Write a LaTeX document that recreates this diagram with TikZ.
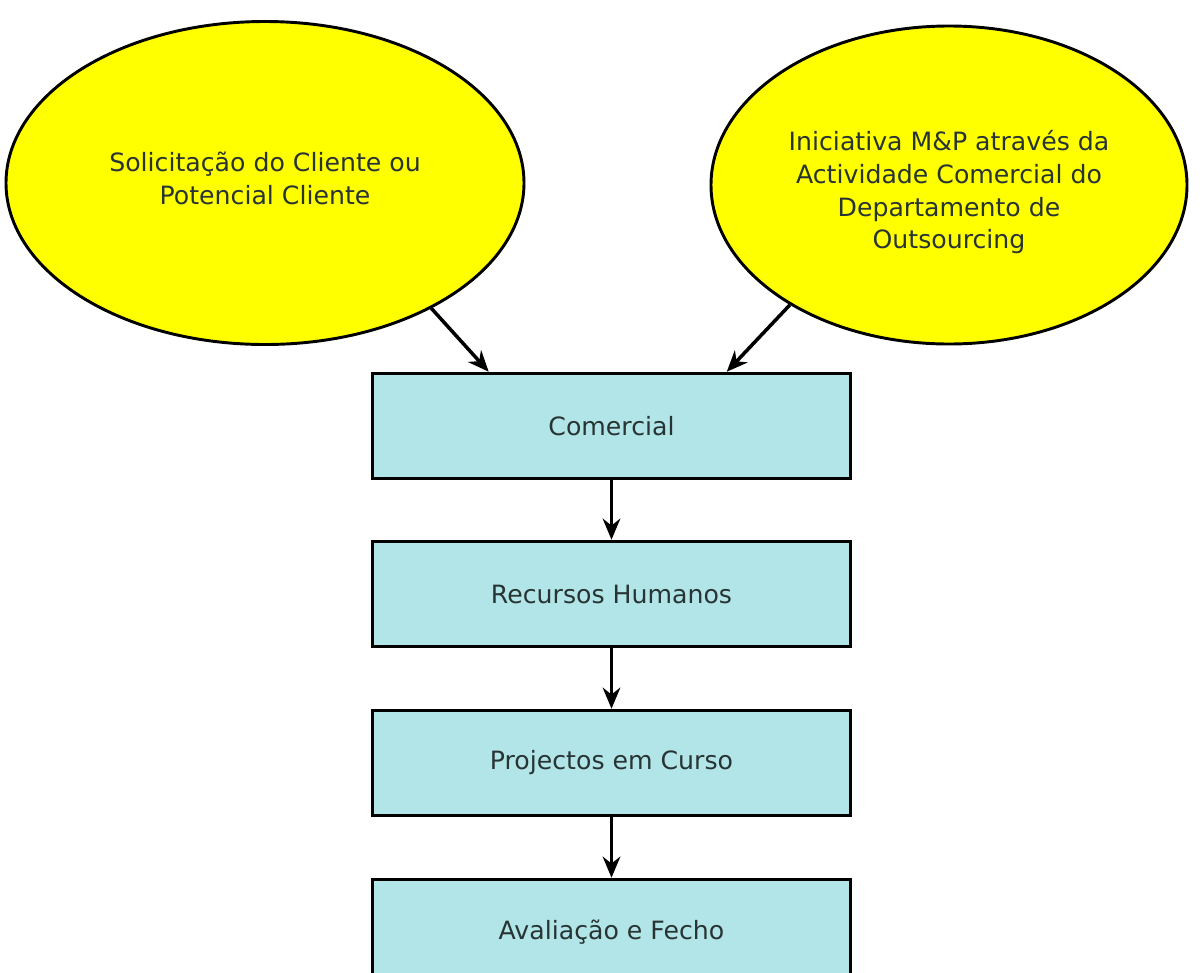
\documentclass[tikz,border=0pt]{standalone}
\usepackage{fontspec}
\setmainfont{DejaVu Sans}
\usepackage{tikz}
\usetikzlibrary{arrows.meta,positioning,shapes.geometric,calc}
\definecolor{boxcyan}{RGB}{178,229,231}
\definecolor{amarelo}{RGB}{255,255,0}
\definecolor{txtgray}{RGB}{40,52,52}

\begin{document}
\begin{tikzpicture}[
  x=0.03cm, y=-0.03cm,
  origem/.style={draw, ellipse, line width=2.5pt, fill=amarelo, align=center, text=txtgray,
    font=\fontsize{21.5}{28}\selectfont},
  etapa/.style={draw, rectangle, line width=3pt, fill=boxcyan, minimum width=478*0.03cm,
    minimum height=105*0.03cm, text=txtgray, font=\fontsize{21.5}{28}\selectfont},
  seta/.style={-{Stealth[length=18pt,width=15pt]}, line width=3pt},
  >=Stealth
]
\useasboundingbox (0,0) rectangle (1200,972);
\clip (0,0) rectangle (1200,972);

% origens do pedido
\node[origem, minimum width=518*0.03cm, minimum height=323*0.03cm] (solicitacao) at (265,183)
  {\raisebox{1pt}[\height][\depth]{\begin{tabular}{@{}c@{}}Solicitação do Cliente ou\\Potencial Cliente\end{tabular}}};
\node[origem, minimum width=476*0.03cm, minimum height=318*0.03cm] (iniciativa) at (949,185)
  {\raisebox{-7pt}[\height][\depth]{\begin{tabular}{@{}c@{}}Iniciativa M\&P através da\\Actividade Comercial do\\
    Departamento de\\Outsourcing\end{tabular}}};

% fluxo principal
\node[etapa] (comercial) at (611.5,426) {Comercial};
\node[etapa] (rh) at (611.5,594) {Recursos Humanos};
\node[etapa] (projectos) at (611.5,763) {Projectos em Curso};
\node[etapa] (avaliacao) at (611.5,932) {Avaliação e Fecho};

% setas
\draw[seta] (solicitacao.-37) -- ($(comercial.north west)+(118,0)$);
\draw[seta] (iniciativa.-143) -- ($(comercial.north west)+(356,0)$);
\draw[seta] (comercial) -- (rh);
\draw[seta] (rh) -- (projectos);
\draw[seta] (projectos) -- (avaliacao);

\end{tikzpicture}
\end{document}
